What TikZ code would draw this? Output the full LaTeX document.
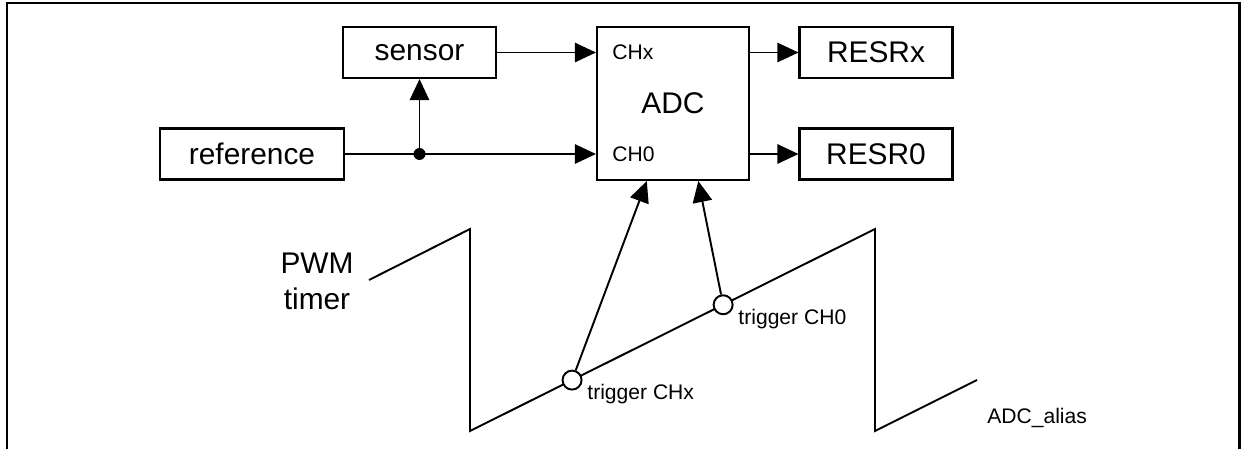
\documentclass[tikz,border=0pt]{standalone}
\usepackage{fontspec}
\setmainfont{Liberation Sans}
\usepackage{tikz}
\usetikzlibrary{arrows.meta, positioning, calc}
\newcommand{\bigtxt}{\fontsize{17}{20.4}\selectfont}
\newcommand{\smalltxt}{\fontsize{12}{14}\selectfont}

\begin{document}
\begin{tikzpicture}[x=0.02cm, y=-0.02cm,
    block/.style={draw, line width=1.2pt, font=\bigtxt, inner sep=0pt,
        minimum width=3.06cm, minimum height=1.02cm},
    sig/.style={line width=1.1pt, -{Triangle[length=12pt, width=11pt]}},
    trig/.style={draw, circle, line width=1.1pt, fill=white, inner sep=0pt, minimum size=0.38cm},
    lbl/.style={font=\smalltxt, inner sep=0pt, anchor=west}]
    \useasboundingbox (0,0) rectangle (1241,449);
    \draw[line width=1.7pt] (7,449) -- (7,3) -- (1239,3) -- (1239,449);

    % blocks
    \node[block] (sensor) at (419.5,52.5) {sensor};
    \node[block, minimum width=3.68cm] (ref) at (252,154) {reference};
    \node[block, minimum width=3.04cm, minimum height=3.06cm] (adc) at (673,103.5) {ADC};
    \node[block] (resrx) at (876,52.5) {RESRx};
    \node[block] (resr0) at (876,154) {RESR0};
    \node[lbl] (chx) at (612,52) {CHx};
    \node[lbl] (ch0) at (612,154) {CH0};

    % signal paths
    \coordinate (junc) at (sensor.south |- ref.east);
    \draw[line width=1.1pt] (ref.east) -- (junc);
    \draw[sig] (junc) -- (ref.east -| adc.west);
    \draw[sig] (junc) -- (sensor.south);
    \fill (junc) circle[radius=0.12cm];
    \draw[sig] (sensor.east) -- (sensor.east -| adc.west);
    \draw[sig] (adc.east |- resrx.west) -- (resrx.west);
    \draw[sig] (adc.east |- resr0.west) -- (resr0.west);

    % PWM timer sawtooth
    \node[font=\bigtxt, align=center, inner sep=0pt] (pwm) at (317,281) {PWM\\timer};
    \coordinate (lo1) at (470,431);
    \coordinate (hi2) at (875,229);
    \draw[line width=1.1pt] (369,280) -- (470,229) -- (lo1) -- (hi2) -- (875,431) -- (977,380);
    \node[trig] (trgx) at ($(lo1)!0.252!(hi2)$) {};
    \node[trig] (trg0) at ($(lo1)!0.625!(hi2)$) {};
    \node[lbl] (trgxlbl) at ($(trgx)+(15,14)$) {trigger CHx};
    \node[lbl] (trg0lbl) at ($(trg0)+(15,14)$) {trigger CH0};
    \draw[sig] (trgx) -- ($(adc.south west)!0.33!(adc.south east)$);
    \draw[sig] (trg0) -- ($(adc.south west)!0.664!(adc.south east)$);

    \node[lbl] (alias) at (987,418) {ADC\_alias};
\end{tikzpicture}
\end{document}
